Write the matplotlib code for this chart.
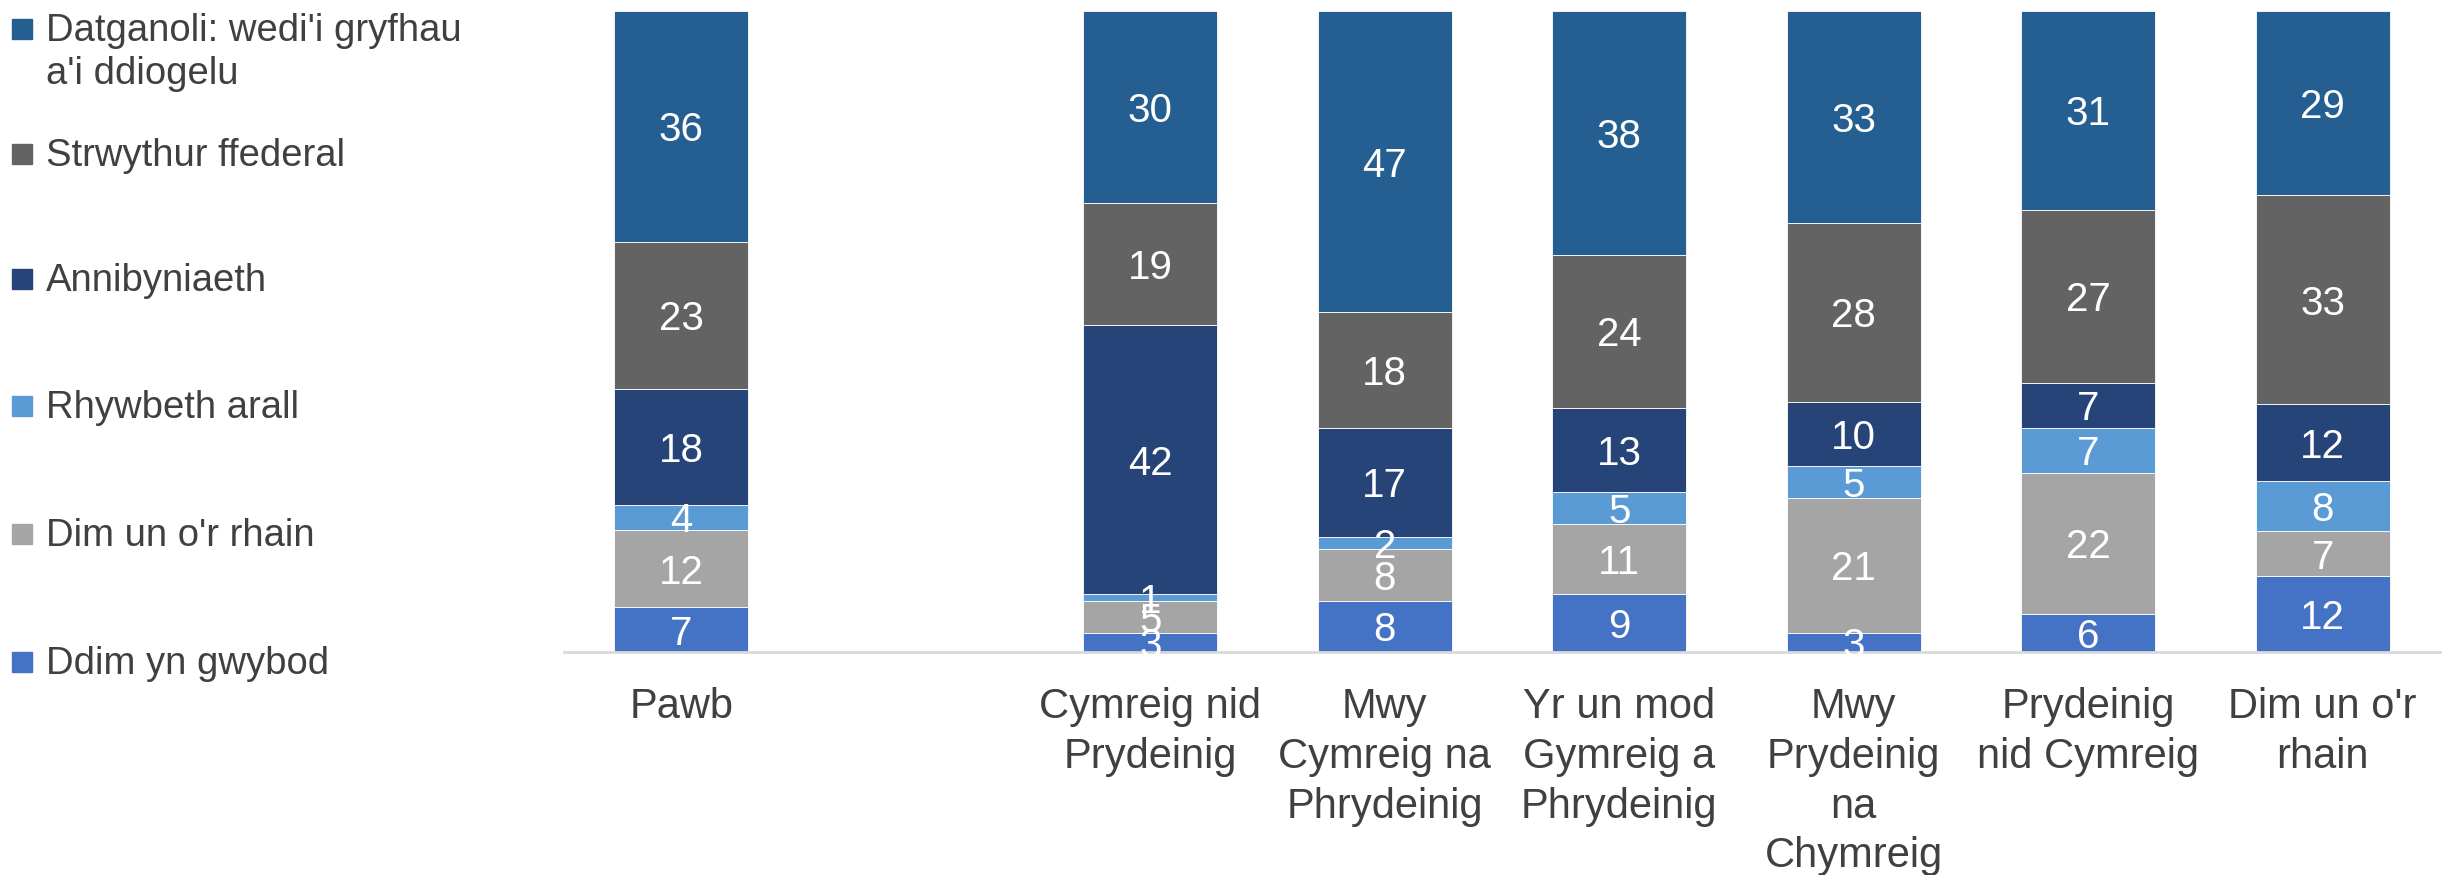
import matplotlib
matplotlib.use("Agg")
import matplotlib.pyplot as plt
from matplotlib.patches import Rectangle
import numpy as np

plt.rcParams['font.family'] = ['Liberation Sans', 'DejaVu Sans']

categories = ["Pawb", "", "Cymreig nid\nPrydeinig", "Mwy\nCymreig na\nPhrydeinig",
              "Yr un mod\nGymreig a\nPhrydeinig", "Mwy\nPrydeinig\nna\nChymreig",
              "Prydeinig\nnid Cymreig", "Dim un o'r\nrhain"]

series_names = ["Ddim yn gwybod", "Dim un o'r rhain", "Rhywbeth arall",
                "Annibyniaeth", "Strwythur ffederal", "Datganoli: wedi'i gryfhau\na'i ddiogelu"]

ddim_yn_gwybod = [7, None, 3, 8, 9, 3, 6, 12]
dim_un = [12, None, 5, 8, 11, 21, 22, 7]
rhywbeth_arall = [4, None, 1, 2, 5, 5, 7, 8]
annibyniaeth = [18, None, 42, 17, 13, 10, 7, 12]
strwythur_ffederal = [23, None, 19, 18, 24, 28, 27, 33]
datganoli = [36, None, 30, 47, 38, 33, 31, 29]

series = [ddim_yn_gwybod, dim_un, rhywbeth_arall, annibyniaeth, strwythur_ffederal, datganoli]
colors = ["#4472C4", "#A5A5A5", "#5B9BD5", "#264478", "#636363", "#255E91"]

fig = plt.figure(figsize=(24.45, 8.75), dpi=100)
ax = fig.add_axes([564 / 2445, 1 - 652 / 875, (2440 - 564) / 2445, (652 - 11) / 875])

x = np.arange(len(categories))
mask = np.array([a is not None for a in series[0]])
vals = np.array([[0 if a is None else a for a in s] for s in series], dtype=float)
totals = vals.sum(axis=0)
totals[totals == 0] = 1
shares = vals / totals * 100  # 100% stacked

bottom = np.zeros(len(categories))
for v, h, col in zip(vals, shares, colors):
    ax.bar(x[mask], h[mask], bottom=bottom[mask], width=0.57, color=col,
           edgecolor="white", linewidth=0.6)
    for xi, vi, hi, bi, m in zip(x, v, h, bottom, mask):
        if m:
            ax.text(xi, bi + hi / 2, f"{int(vi)}", ha="center", va="center_baseline",
                    color="white", fontsize=29)
    bottom += h

ax.set_xlim(-0.5, len(categories) - 0.5)
ax.set_ylim(0, 100)
ax.set_yticks([])
ax.set_xticks(x)
ax.set_xticklabels(categories, fontsize=30, color="#404040", linespacing=1.31)
ax.tick_params(axis="x", length=0, pad=25.5)
for side in ["left", "right", "top"]:
    ax.spines[side].set_visible(False)
ax.spines["bottom"].set_color("#D9D9D9")
ax.spines["bottom"].set_linewidth(2)

# Legend entries, top entry is the top of each stack
legend_y = [28, 153, 278, 405, 533, 661]
for name, col, yp in zip(series_names[::-1], colors[::-1], legend_y):
    fig.patches.append(Rectangle((12 / 2445, 1 - (yp + 11) / 875), 20 / 2445, 20 / 875,
                                 transform=fig.transFigure, color=col))
    fig.text(46 / 2445, 1 - (yp - 15) / 875, name, fontsize=27.5, color="#404040",
             va="top", ha="left", linespacing=1.25)

fig.savefig("out.png", dpi=100)
